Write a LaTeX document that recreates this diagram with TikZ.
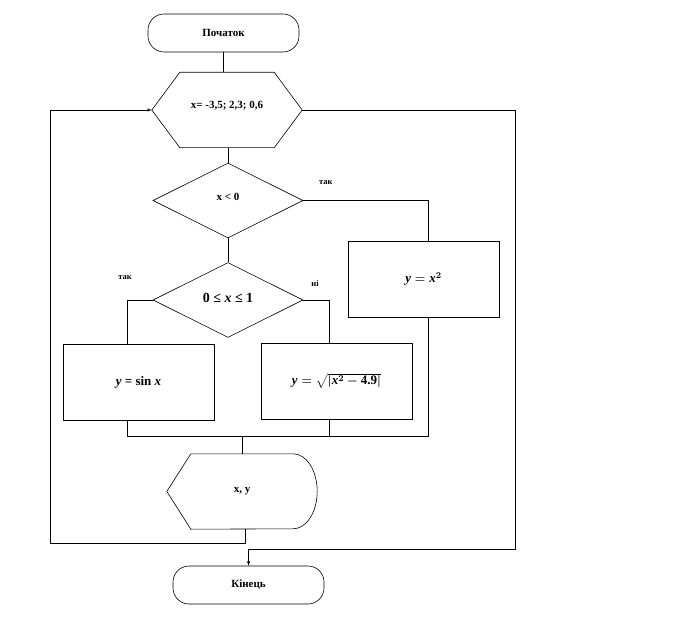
\documentclass[tikz,border=0pt]{standalone}
\usepackage{amsmath}
\usepackage{fontspec}
\setmainfont{Liberation Serif}
\usetikzlibrary{shapes.geometric}
\tikzset{
  box/.style      = {draw, line width=0.6pt, align=center,
                     font=\bfseries\fontsize{11}{13}\selectfont},
  term/.style     = {box, rectangle, rounded corners=16pt,
                     minimum width=151pt, minimum height=38pt},
  loopnode/.style = {minimum width=150pt, minimum height=75pt,
                     font=\bfseries\fontsize{11}{13}\selectfont},
  decision/.style = {box, diamond, aspect=2,
                     minimum width=150pt, minimum height=75pt, inner sep=0pt},
  process/.style  = {box, rectangle, minimum width=151pt, minimum height=76pt,
                     font=\bfseries\fontsize{13}{15}\selectfont},
  outnode/.style  = {minimum width=150pt, minimum height=75pt,
                     font=\bfseries\fontsize{11}{13}\selectfont},
  lbl/.style      = {font=\bfseries\fontsize{8.5}{10}\selectfont, inner sep=0pt},
  conn/.style     = {line width=0.5pt}
}

\begin{document}
\begin{tikzpicture}
 [x=1pt, y=-1pt, >=latex]

  \useasboundingbox (0,0) rectangle (690,617);

  \node [term] (start) at (223.5,33) {Початок};
  \node [loopnode] (loop) at (227,110) {\raisebox{10pt}{x= -3,5; 2,3; 0,6}};
  \node [decision] (cond1) at (228,200.5) {\raisebox{7pt}{x < 0}};
  \node [decision, font=\bfseries\fontsize{14}{16}\selectfont] (cond2) at (228,300)
    {\raisebox{5pt}{0 ≤ \textit{x} ≤ 1}};
  \node [process] (sqbox) at (423.5,279) {{\boldmath$\text{\itshape y} = \text{\itshape x}^{2}$}};
  \node [process] (sinbox) at (138.5,382) {\textit{y} = sin \textit{x}};
  \node [process] (rootbox) at (336.5,381)
    {{\boldmath$\text{\itshape y} = \sqrt{\left|\text{\itshape x}^{2} - \text{4.9}\right|}$}};
  \node [outnode] (outp) at (242,491.5) {x, y};
  \node [term] (stop) at (248.5,585) {Кінець};

  \coordinate (lft)  at (50,110);
  \coordinate (rgt)  at (515,110);
  \coordinate (rgtb) at (515,549);
  \coordinate (join) at (242,436);

  \draw [box] (loop.west) -- ([xshift=28pt]loop.north west)
    -- ([xshift=-28pt]loop.north east) -- (loop.east)
    -- ([xshift=-28pt]loop.south east) -- ([xshift=28pt]loop.south west) -- cycle;
  \draw [box] (outp.west) -- ([xshift=24pt]outp.north west)
    -- ([xshift=-24pt]outp.north east)
    arc [start angle=90, end angle=-90, x radius=24pt, y radius=37.5pt]
    -- ([xshift=24pt]outp.south west) -- cycle;

  \draw [conn] (start.south) -- (start.south |- loop.north);
  \draw [conn] (cond1.north |- loop.south) -- (cond1.north);
  \draw [conn] (cond1.east) -| node [lbl, pos=0.09, yshift=18pt] {так}
    ([xshift=5pt]sqbox.north);
  \draw [conn] (cond1.south) -- (cond2.north);
  \draw [conn] (cond2.west) -| node [lbl, pos=0.5, xshift=-2pt, yshift=22pt] {так}
    ([xshift=-11.5pt]sinbox.north);
  \draw [conn] (cond2.east) -| node [lbl, pos=0.23, yshift=16pt] {ні}
    ([xshift=-7.5pt]rootbox.north);

  \draw [conn] ([xshift=-11.5pt]sinbox.south) |- (join);
  \draw [conn] (join) -| ([xshift=5pt]sqbox.south);
  \draw [conn] ([xshift=-7.5pt]rootbox.south) -- ++(0,18);
  \draw [conn] (join) -- (outp.north);

  \draw [conn, ->] ([xshift=3pt]outp.south) -- ++(0,14) -| (lft) -- (loop.west);
  \draw [conn, ->] (loop.east) -- (rgt) -- (rgtb) -| (stop.north);
\end{tikzpicture}
\end{document}
